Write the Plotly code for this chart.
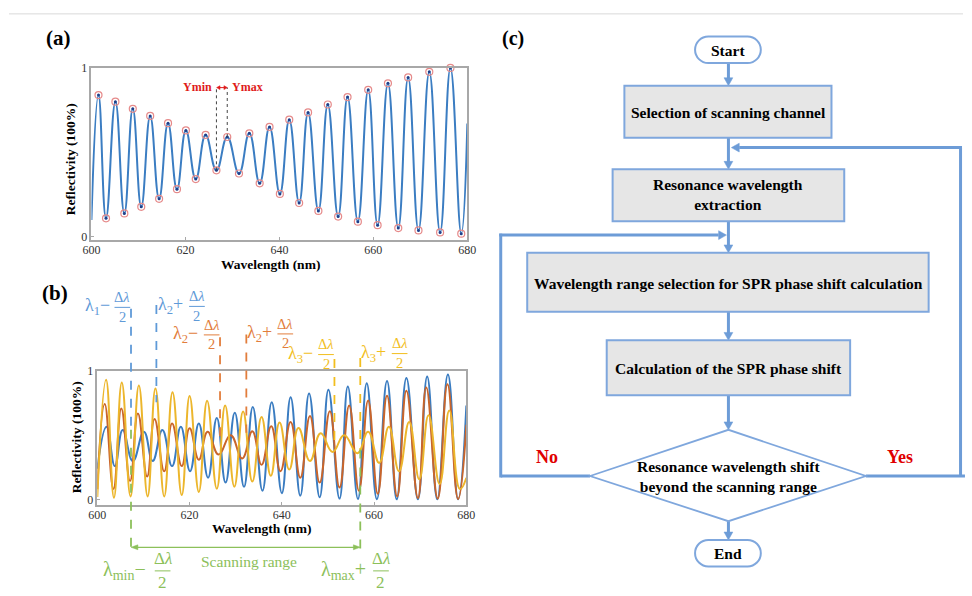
import plotly.graph_objects as go

W, H = 972, 596
SERIF = "Liberation Serif"

# ---------------- Panel (a) data ----------------
a_peak_wl = [601.5, 605.1, 608.8, 612.5, 616.3, 620.1, 624.3, 628.9, 633.6, 637.9,
             642.1, 646.1, 650.3, 654.5, 658.9, 663.1, 667.4, 671.9, 676.4]
a_peak_r = [0.839, 0.800, 0.757, 0.715, 0.672, 0.629, 0.602, 0.590, 0.612, 0.650,
            0.693, 0.736, 0.783, 0.827, 0.870, 0.909, 0.944, 0.977, 1.000]
a_trough_wl = [603.1, 607.0, 610.6, 614.4, 618.2, 622.2, 626.6, 631.4, 635.8, 640.1,
               644.2, 648.3, 652.5, 656.7, 660.9, 665.3, 669.6, 674.2, 678.7]
a_trough_r = [0.107, 0.136, 0.175, 0.223, 0.280, 0.340, 0.392, 0.373, 0.315, 0.252,
              0.198, 0.151, 0.117, 0.087, 0.066, 0.049, 0.035, 0.023, 0.016]
a_end_wl = [600.0, 680.0]
a_end_r = [0.097, 0.670]
a_ymin_idx = 6   # trough used for Ymin
a_ymax_idx = 7   # peak used for Ymax

# ---------------- Panel (b) data ----------------
blue_peak_wl = [602.0, 605.5, 610.1, 614.1, 618.1, 622.0, 625.9, 629.8, 633.7, 637.8,
                641.9, 645.9, 650.1, 654.3, 658.4, 662.8, 667.0, 671.5, 676.0]
blue_peak_r = [0.565, 0.540, 0.527, 0.540, 0.565, 0.590, 0.634, 0.674, 0.718, 0.756,
               0.794, 0.823, 0.853, 0.878, 0.903, 0.921, 0.945, 0.955, 0.972]
blue_trough_wl = [603.8, 607.7, 612.0, 616.2, 620.1, 624.0, 627.8, 631.8, 635.8, 640.0,
                  644.0, 648.2, 652.5, 656.5, 660.6, 664.9, 669.5, 673.7, 678.2]
blue_trough_r = [0.260, 0.300, 0.300, 0.260, 0.221, 0.170, 0.132, 0.099, 0.069, 0.050,
                 0.031, 0.018, 0.008, 0.005, 0.003, 0.002, 0.002, 0.002, 0.002]
blue_end_wl = [600.0, 680.0]
blue_end_r = [0.240, 0.730]

orange_peak_wl = [601.6, 605.2, 608.8, 612.4, 616.2, 620.0, 623.9, 628.9, 633.6, 637.7,
                  641.9, 646.1, 650.4, 654.6, 658.7, 662.8, 667.0, 671.3, 675.9]
orange_peak_r = [0.742, 0.707, 0.669, 0.625, 0.590, 0.553, 0.527, 0.500, 0.530, 0.570,
                 0.603, 0.649, 0.685, 0.730, 0.769, 0.807, 0.845, 0.870, 0.896]
orange_trough_wl = [603.5, 607.1, 610.8, 614.5, 618.3, 622.0, 626.3, 631.4, 635.6, 639.7,
                    644.0, 648.2, 652.5, 656.7, 660.8, 665.0, 669.5, 673.8, 678.2]
orange_trough_r = [0.083, 0.145, 0.180, 0.220, 0.260, 0.310, 0.350, 0.320, 0.270, 0.221,
                   0.170, 0.132, 0.094, 0.069, 0.045, 0.025, 0.012, 0.008, 0.005]
orange_end_wl = [600.0, 680.0]
orange_end_r = [0.080, 0.580]

yellow_peak_wl = [601.9, 605.3, 609.0, 612.6, 616.3, 620.0, 623.8, 627.7, 631.6, 635.6,
                  639.5, 643.6, 648.4, 653.5, 658.7, 663.2, 667.6, 671.8, 676.3]
yellow_peak_r = [0.930, 0.910, 0.886, 0.862, 0.833, 0.805, 0.768, 0.730, 0.684, 0.641,
                 0.598, 0.555, 0.515, 0.500, 0.527, 0.565, 0.603, 0.654, 0.692]
yellow_trough_wl = [603.6, 607.2, 610.9, 614.5, 618.3, 622.0, 625.9, 629.7, 633.6, 637.6,
                    641.6, 646.1, 651.0, 656.4, 661.1, 665.4, 669.8, 674.2, 678.6]
yellow_trough_r = [0.015, 0.025, 0.025, 0.025, 0.035, 0.060, 0.085, 0.100, 0.140, 0.185,
                   0.234, 0.300, 0.370, 0.360, 0.285, 0.220, 0.158, 0.120, 0.082]
yellow_end_wl = [600.0, 680.0]
yellow_end_r = [0.020, 0.170]

# wavelength positions of the dashed markers in panel (b)
b_mark_wl = [607.3, 612.8, 626.6, 632.3, 651.4, 657.0]
scan_wl = [607.3, 657.0]

x_ticks = [600, 620, 640, 660, 680]
y_ticks = [0, 1]

# ---------------- colours ----------------
C_A = "#3b7dc2"
C_BLUE = "#3a7cc1"
C_ORANGE = "#c9652b"
C_YELLOW = "#ecb62c"
L_BLUE = "#5f9ad8"
L_ORANGE = "#e27d3c"
L_YELLOW = "#f2be1e"
L_GREEN = "#8cc05a"
FLOW = "#6d9cd7"
BOX_BORDER = "#7fa7dd"
BOX_FILL = "#e6e6e6"
AXIS_GRAY = "#a8a8a8"


def px(x):
    return x / W


def py(y):
    return 1 - y / H


def merge(*pairs):
    pts = []
    for wl, r in pairs:
        pts += list(zip(wl, r))
    pts.sort()
    return [p[0] for p in pts], [p[1] for p in pts]


fig = go.Figure()

# Panel (a) curve
ax_wl, ax_r = merge((a_peak_wl, a_peak_r), (a_trough_wl, a_trough_r), (a_end_wl, a_end_r))
fig.add_trace(go.Scatter(x=ax_wl, y=ax_r, mode="lines",
                         line=dict(color=C_A, width=2, shape="spline", smoothing=1.3),
                         xaxis="x", yaxis="y", showlegend=False, hoverinfo="skip"))
ext_wl = a_peak_wl + a_trough_wl
ext_r = a_peak_r + a_trough_r
fig.add_trace(go.Scatter(x=ext_wl, y=ext_r, mode="markers",
                         marker=dict(symbol="circle-open", size=7, color="#e68a8a", line=dict(width=1.2)),
                         xaxis="x", yaxis="y", showlegend=False, cliponaxis=False, hoverinfo="skip"))
fig.add_trace(go.Scatter(x=ext_wl, y=ext_r, mode="markers",
                         marker=dict(symbol="circle", size=3, color="#1f3f8a"),
                         xaxis="x", yaxis="y", showlegend=False, cliponaxis=False, hoverinfo="skip"))

# Panel (b) curves
for pk_wl, pk_r, tr_wl, tr_r, e_wl, e_r, col in [
    (blue_peak_wl, blue_peak_r, blue_trough_wl, blue_trough_r, blue_end_wl, blue_end_r, C_BLUE),
    (orange_peak_wl, orange_peak_r, orange_trough_wl, orange_trough_r, orange_end_wl, orange_end_r, C_ORANGE),
    (yellow_peak_wl, yellow_peak_r, yellow_trough_wl, yellow_trough_r, yellow_end_wl, yellow_end_r, C_YELLOW),
]:
    bx, by = merge((pk_wl, pk_r), (tr_wl, tr_r), (e_wl, e_r))
    fig.add_trace(go.Scatter(x=bx, y=by, mode="lines",
                             line=dict(color=col, width=2, shape="spline", smoothing=1.3),
                             xaxis="x2", yaxis="y2", showlegend=False, hoverinfo="skip"))

axis_common = dict(showgrid=False, zeroline=False, showline=True, mirror=True,
                   linecolor=AXIS_GRAY, linewidth=1.5, ticks="inside", ticklen=3,
                   tickcolor=AXIS_GRAY, tickfont=dict(family=SERIF, size=12, color="#333333"))

fig.update_layout(
    width=W, height=H, margin=dict(l=0, r=0, t=0, b=0),
    paper_bgcolor="white", plot_bgcolor="white",
    xaxis=dict(domain=[px(84), px(467)], range=[600, 680], tickvals=x_ticks, anchor="y",
               ticklabelstandoff=-2, **axis_common),
    yaxis=dict(domain=[py(237), py(62)], range=[-0.022, 1.0], tickvals=y_ticks, anchor="x", **axis_common),
    xaxis2=dict(domain=[px(90), px(466)], range=[600, 680], tickvals=x_ticks, anchor="y2",
                ticklabelstandoff=-2, **axis_common),
    yaxis2=dict(domain=[py(506), py(370)], range=[-0.038, 1.0], tickvals=y_ticks, anchor="x2", **axis_common),
)

shapes = []
ann = []


def text(x, y, s, size, color="black", bold=False, xanchor="center", angle=0, family=SERIF):
    if bold:
        s = "<b>" + s + "</b>"
    ann.append(dict(x=px(x), y=py(y), xref="paper", yref="paper", text=s, showarrow=False,
                    xanchor=xanchor, yanchor="middle", textangle=angle,
                    font=dict(family=family, size=size, color=color)))


def line(x0, y0, x1, y1, color, width, dash=None):
    d = dict(type="line", xref="paper", yref="paper", x0=px(x0), y0=py(y0), x1=px(x1), y1=py(y1),
             line=dict(color=color, width=width))
    if dash:
        d["line"]["dash"] = dash
    shapes.append(d)


def tri(x, y, direction, color, hw=4.5, ln=8):
    # x,y = tip
    if direction == "down":
        pts = [(x - hw, y - ln), (x + hw, y - ln), (x, y)]
    elif direction == "up":
        pts = [(x - hw, y + ln), (x + hw, y + ln), (x, y)]
    elif direction == "left":
        pts = [(x + ln, y - hw), (x + ln, y + hw), (x, y)]
    else:
        pts = [(x - ln, y - hw), (x - ln, y + hw), (x, y)]
    path = "M " + " L ".join(f"{px(a)},{py(b)}" for a, b in pts) + " Z"
    shapes.append(dict(type="path", xref="paper", yref="paper", path=path,
                       fillcolor=color, line=dict(color=color, width=0.5)))


def rect(x0, y0, x1, y1, fill, border, width):
    shapes.append(dict(type="rect", xref="paper", yref="paper", x0=px(x0), y0=py(y1), x1=px(x1), y1=py(y0),
                       fillcolor=fill, line=dict(color=border, width=width)))


def pill(x0, y0, x1, y1, border, width):
    r = (y1 - y0) / 2
    k = 0.55 * r
    P = lambda a, b: f"{px(a)},{py(b)}"
    path = (f"M {P(x0 + r, y0)} L {P(x1 - r, y0)} "
            f"C {P(x1 - r + k, y0)} {P(x1, y0 + r - k)} {P(x1, y0 + r)} "
            f"C {P(x1, y0 + r + k)} {P(x1 - r + k, y1)} {P(x1 - r, y1)} "
            f"L {P(x0 + r, y1)} "
            f"C {P(x0 + r - k, y1)} {P(x0, y0 + r + k)} {P(x0, y0 + r)} "
            f"C {P(x0, y0 + r - k)} {P(x0 + r - k, y0)} {P(x0 + r, y0)} Z")
    shapes.append(dict(type="path", xref="paper", yref="paper", path=path,
                       fillcolor="white", line=dict(color=border, width=width)))


# top rule
line(0, 7, W, 7, "#d9d9d9", 1)

# ---------------- Panel (a) annotations ----------------
text(50, 32, "(a)", 21, bold=True)
text(266, 261.5, "Wavelength (nm)", 13.5, bold=True)
text(63, 155, "Reflectivity (100%)", 13.5, bold=True, angle=-90)
y_top_dash = (233.3 - 82) / (233.3 - 62)
for wl, r in [(a_trough_wl[a_ymin_idx], a_trough_r[a_ymin_idx]), (a_peak_wl[a_ymax_idx], a_peak_r[a_ymax_idx])]:
    shapes.append(dict(type="line", xref="x", yref="y", x0=wl, x1=wl, y0=r, y1=y_top_dash,
                       line=dict(color="#444444", width=1, dash="dot")))
text(209, 81.5, "Ymin", 12, color="#e01b1b", bold=True, xanchor="right")
text(225, 81.5, "Ymax", 12, color="#e01b1b", bold=True, xanchor="left")
line(213, 82, 221, 82, "#e01b1b", 1)
tri(211.5, 82, "left", "#e01b1b", hw=2, ln=3.5)
tri(222.5, 82, "right", "#e01b1b", hw=2, ln=3.5)

# ---------------- Panel (b) annotations ----------------
text(47, 291, "(b)", 21, bold=True)
text(257, 530.5, "Wavelength (nm)", 13.5, bold=True)
text(69, 438, "Reflectivity (100%)", 13.5, bold=True, angle=-90)

# dashed marker lines: (y_top_px, y_bottom_px, colour)
mark_spans = [(307, 430, L_BLUE), (303, 402, L_BLUE), (336, 445, L_ORANGE),
              (333, 433, L_ORANGE), (358, 447, L_YELLOW), (357, 450, L_YELLOW)]
for wl, (yt, yb, col) in zip(b_mark_wl, mark_spans):
    shapes.append(dict(type="line", xref="x2", yref="paper", x0=wl, x1=wl, y0=py(yt), y1=py(yb),
                       line=dict(color=col, width=1.8, dash="dash")))
for wl, yt in zip(scan_wl, [430, 450]):
    shapes.append(dict(type="line", xref="x2", yref="paper", x0=wl, x1=wl, y0=py(yt), y1=py(551),
                       line=dict(color=L_GREEN, width=1.8, dash="dash")))


def frac_label(x_left, y_mid, main, x_frac, color, size, fsize, dy=10):
    text(x_left, y_mid, main, size, color=color, xanchor="left")
    text(x_frac, y_mid - dy, "Δ<i>λ</i>", fsize, color=color)
    text(x_frac, y_mid + dy, "2", fsize, color=color)
    line(x_frac - 8, y_mid + 0.5, x_frac + 8, y_mid + 0.5, color, 1)


frac_label(75, 305, "λ<sub>1</sub>−", 115.5, L_BLUE, 18, 14.5)
frac_label(150, 304, "λ<sub>2</sub>+", 191.5, L_BLUE, 18, 14.5)
frac_label(165, 333, "λ<sub>2</sub>−", 206.5, L_ORANGE, 18, 14.5)
frac_label(240, 332, "λ<sub>2</sub>+", 281.5, L_ORANGE, 18, 14.5)
frac_label(282, 353, "λ<sub>3</sub>−", 323, L_YELLOW, 18, 14.5)
frac_label(357, 352, "λ<sub>3</sub>+", 398, L_YELLOW, 18, 14.5)

# scanning range arrow
xa_px = lambda wl: 90 + (wl - 600) / 80 * 376
line(xa_px(scan_wl[0]) + 6, 549.5, xa_px(scan_wl[1]) - 6, 549.5, L_GREEN, 1.2)
tri(xa_px(scan_wl[0]), 549.5, "left", L_GREEN, hw=2.5, ln=7)
tri(xa_px(scan_wl[1]), 549.5, "right", L_GREEN, hw=2.5, ln=7)
text(245, 563.5, "Scanning range", 15.5, color=L_GREEN)
frac_label(94, 573, "λ<sub>min</sub>−", 156.5, L_GREEN, 20, 17, dy=12.5)
frac_label(316, 573, "λ<sub>max</sub>+", 379, L_GREEN, 20, 17, dy=12.5)

# ---------------- Panel (c) flowchart ----------------
text(514, 32, "(c)", 20, bold=True)
CX = 733
LW = 3
# arrows
line(CX, 58, CX, 73, FLOW, LW); tri(CX, 80, "down", FLOW)
line(CX, 133, CX, 158, FLOW, LW); tri(CX, 165, "down", FLOW)
line(CX, 218, CX, 243, FLOW, LW); tri(CX, 250, "down", FLOW)
line(CX, 310, CX, 332, FLOW, LW); tri(CX, 339, "down", FLOW)
line(CX, 395, CX, 423, FLOW, LW); tri(CX, 430, "down", FLOW)
line(CX, 523, CX, 535, FLOW, LW); tri(CX, 542, "down", FLOW)
# right loop (Yes)
line(873, 477, W + 2, 477, FLOW, LW)
line(969.5, 477, 969.5, 143, FLOW, LW)
line(971, 143, 744, 143, FLOW, LW); tri(736, 143, "left", FLOW)
# left loop (No)
line(592, 477, 501, 477, FLOW, LW)
line(501, 478.5, 501, 230.5, FLOW, LW)
line(499.5, 232, 723, 232, FLOW, LW); tri(731, 232, "right", FLOW)

# boxes
pill(699, 30, 766, 57, BOX_BORDER, 2)
rect(627, 80, 838, 133, BOX_FILL, BOX_BORDER, 2)
rect(615, 165, 851, 218, BOX_FILL, BOX_BORDER, 2)
rect(528, 250, 937, 310, BOX_FILL, BOX_BORDER, 2)
rect(609, 339, 857, 395, BOX_FILL, BOX_BORDER, 2)
dpath = "M " + " L ".join(f"{px(a)},{py(b)}" for a, b in [(592, 477), (CX, 430), (873, 477), (CX, 523)]) + " Z"
shapes.append(dict(type="path", xref="paper", yref="paper", path=dpath, fillcolor="white",
                   line=dict(color=BOX_BORDER, width=1.8)))
pill(699, 542, 766, 569, BOX_BORDER, 2)

text(CX, 44, "Start", 15.5, bold=True)
text(CX, 107, "Selection of scanning channel", 15.5, bold=True)
text(CX, 191, "Resonance wavelength<br>extraction", 15.5, bold=True)
text(CX, 281, "Wavelength range selection for SPR phase shift calculation", 15.5, bold=True)
text(CX, 368, "Calculation of the SPR phase shift", 15.5, bold=True)
text(CX, 477.5, "Resonance wavelength shift<br>beyond the scanning range", 15.5, bold=True)
text(CX, 556, "End", 15.5, bold=True)
text(548, 458, "No", 18, color="#e00000", bold=True)
text(908, 458, "Yes", 18, color="#e00000", bold=True)

fig.update_layout(shapes=shapes, annotations=ann)
fig.write_html(
    "out.html",
    config={"displayModeBar": False},
    post_script=("document.body.style.margin='0';document.body.style.padding='0';"
                 "document.documentElement.style.overflow='hidden';"
                 "document.body.style.overflow='hidden';"),
)
